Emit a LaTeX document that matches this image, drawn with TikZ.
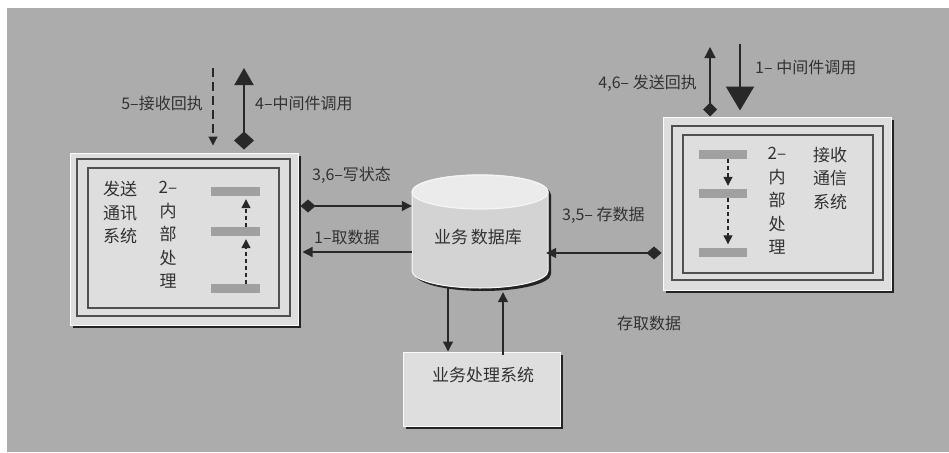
\documentclass[tikz,border=0pt]{standalone}
\usepackage{fontspec}
\newfontfamily\cjk{Noto Sans CJK SC}
\usetikzlibrary{arrows.meta,shapes.geometric}
\definecolor{bgc}{RGB}{172,172,172}
\definecolor{boxc}{RGB}{222,222,222}
\definecolor{barc}{RGB}{160,160,160}
\definecolor{txtc}{RGB}{50,50,50}
\definecolor{linec}{RGB}{40,40,40}
\definecolor{framec}{RGB}{80,80,80}
\definecolor{shadc}{RGB}{35,35,35}
\tikzset{
  outerbox/.style={rectangle,fill=boxc,draw=white!85!boxc,line width=1pt,inner sep=0pt},
  framebox/.style={draw=framec,line width=1.4pt},
  barbox/.style={rectangle,fill=barc,minimum width=49pt,minimum height=9pt,inner sep=0pt},
  lbl/.style={text=txtc,font=\cjk\fontsize{16}{20}\selectfont,inner sep=0pt},
  boxtxt/.style={text=txtc,font=\cjk\fontsize{17}{23.5}\selectfont,inner sep=0pt,align=center},
  conn/.style={draw=linec,line width=1.3pt},
  tri/.style={-{Triangle[length=10pt,width=10pt]}},
  ditri/.style={{Diamond[length=15pt,width=13pt]}-{Triangle[length=10pt,width=10pt]}},
  dashconn/.style={draw=linec,line width=1.2pt,dash pattern=on 4pt off 3pt,-{Triangle[length=9pt,width=9pt]}},
}
\begin{document}
\begin{tikzpicture}[x=1pt,y=-1pt]
\useasboundingbox (0,0) rectangle (949,452);
\fill[white] (0,0) rectangle (949,452);
\fill[bgc] (7,8) rectangle (949,452);

% ---------- left box ----------
\fill[shadc] (73,156) rectangle (301,328);
\node[outerbox,minimum width=228pt,minimum height=172pt] (lbox) at (184,239) {};
\draw[framebox] (77,159) rectangle (290,316);
\draw[framebox] (88,168) rectangle (279,308);
\node[barbox] (lb1) at (235.5,191.5) {};
\node[barbox] (lb2) at (235.5,231.5) {};
\node[barbox] (lb3) at (235.5,288.5) {};
\draw[dashconn] ([xshift=10.5pt]lb3.north) -- ([xshift=10.5pt,yshift=-3pt]lb2.south);
\draw[dashconn] ([xshift=10.5pt]lb2.north) -- ([xshift=10.5pt,yshift=-3pt]lb1.south);
\node[boxtxt,anchor=north] (lt1) at (120,181) {发送\\通讯\\系统};
\node[boxtxt,anchor=north] (lt2) at (168,181) {2–\\内\\部\\处\\理};

% ---------- right box ----------
\fill[shadc] (666,120) rectangle (894,293);
\node[outerbox,minimum width=228pt,minimum height=173pt] (rbox) at (777,203.5) {};
\draw[framebox] (672,126) rectangle (883,280);
\draw[framebox] (683,135) rectangle (873,273);
\node[barbox,minimum width=48pt] (rb1) at (723,154.5) {};
\node[barbox,minimum width=48pt] (rb2) at (723,193.5) {};
\node[barbox,minimum width=48pt] (rb3) at (723,252) {};
\draw[dashconn] ([xshift=5pt]rb1.south) -- ([xshift=5pt,yshift=3pt]rb2.north);
\draw[dashconn] ([xshift=5pt]rb2.south) -- ([xshift=5pt,yshift=3pt]rb3.north);
\node[boxtxt,anchor=north] (rt2) at (777,147) {2–\\内\\部\\处\\理};
\node[boxtxt,anchor=north] (rt1) at (830,147) {接收\\通信\\系统};

% ---------- database cylinder ----------
\fill[shadc] (415,195) -- (415,274) arc[start angle=180,end angle=360,x radius=68pt,y radius=17pt] -- (551,195) arc[start angle=0,end angle=180,x radius=68pt,y radius=17pt] -- cycle;
\filldraw[fill=boxc!95!black,draw=white!80!boxc,line width=1pt] (412,192) -- (412,271) arc[start angle=180,end angle=360,x radius=68pt,y radius=17pt] -- (548,192) arc[start angle=0,end angle=180,x radius=68pt,y radius=17pt] -- cycle;
\draw[white!70!boxc,line width=1.2pt,fill=boxc!60!white] (480,192) ellipse[x radius=68pt,y radius=17pt];
\node[rectangle,minimum width=136pt,minimum height=113pt,inner sep=0pt] (db) at (480,231.5) {};
\node[boxtxt] (dbt) at (478,237) {业务\,数据库};

% ---------- business system box ----------
\fill[shadc] (406,355) rectangle (563,429);
\node[outerbox,minimum width=157pt,minimum height=74pt] (bbox) at (481.5,389) {};
\node[boxtxt] (bbt) at (483,375) {业务处理系统};

% ---------- coordinates for free ends ----------
\coordinate (yw) at (0,206);
\coordinate (yr) at (0,252);
\coordinate (ys) at (0,253);
\coordinate (ltop) at (0,68);
\coordinate (rtop1) at (0,47);
\coordinate (rtop2) at (0,44);
\coordinate (xd) at (213,0);
\coordinate (xs) at (244,0);
\coordinate (xr1) at (710,0);
\coordinate (xr2) at (740,0);
\coordinate (xb1) at (448,0);
\coordinate (xb2) at (503,0);

% ---------- connectors ----------
\draw[conn,ditri] ([xshift=2pt]lbox.east |- yw) -- (db.west |- yw);
\draw[conn,tri] (db.west |- yr) -- ([xshift=4pt]lbox.east |- yr);
\draw[conn,ditri] ([xshift=-1pt]rbox.west |- ys) -- ([xshift=-2pt]db.east |- ys);
\draw[conn,tri] (xb1 |- db.south) -- (xb1 |- bbox.north);
\draw[conn,tri] ([yshift=-3pt]xb2 |- bbox.north) -- ([yshift=-4pt]xb2 |- db.south);

\draw[dashconn,line width=1.2pt,dash pattern=on 9pt off 5pt] (xd |- ltop) -- ([yshift=7pt]xd |- lbox.north);
\draw[draw=linec,line width=2pt,{Diamond[length=18pt,width=20pt]}-{Triangle[length=17pt,width=19pt]}] ([yshift=3pt]xs |- lbox.north) -- (xs |- ltop);
\draw[conn,{Diamond[length=14pt,width=14pt]}-{Triangle[length=11pt,width=11pt]}] (xr1 |- rbox.north) -- (xr1 |- rtop1);
\draw[draw=linec,line width=2pt,-{Triangle[length=24pt,width=28pt]}] (xr2 |- rtop2) -- ([yshift=6pt]xr2 |- rbox.north);

% ---------- labels ----------
\node[lbl,anchor=east] (l5) at (203,103) {5–接收回执};
\node[lbl,anchor=west] (l4) at (255,103) {4–中间件调用};
\node[lbl,anchor=west] (l36) at (312,175) {3,6–写状态};
\node[lbl,anchor=west] (l1) at (314,237) {1–取数据};
\node[lbl,anchor=west] (l35) at (562,215) {3,5– 存数据};
\node[lbl,anchor=west] (lcq) at (617,323) {存取数据};
\node[lbl,anchor=east] (l46) at (697,83) {4,6– 发送回执};
\node[lbl,anchor=west] (l1m) at (755,67) {1– 中间件调用};
\end{tikzpicture}
\end{document}
